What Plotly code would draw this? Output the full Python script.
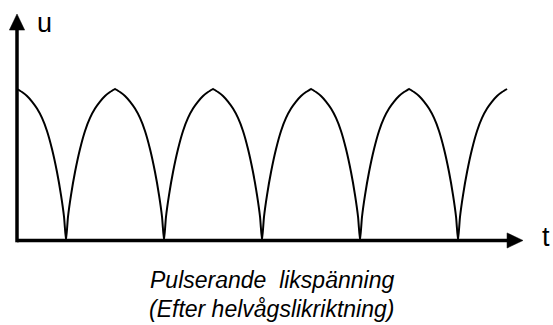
import plotly.graph_objects as go

# Full-wave rectified voltage: peak times and the profile of one half-arch
PEAK_T = [0, 10, 20, 30, 40, 50]
ARCH_DT = [0.0, 0.51, 1.02, 1.53, 2.04, 2.55, 3.06, 3.57, 4.08, 4.49, 4.80, 5.0]
ARCH_U = [1.0, 0.980, 0.954, 0.917, 0.871, 0.809, 0.723, 0.604, 0.452, 0.300, 0.155, 0.0]

AXIS_LABELS = ["u", "t"]
CAPTION = ["Pulserande  likspänning", "(Efter helvågslikriktning)"]

# build the curve: fall from each peak to zero, then rise to the next peak
t_vals, u_vals = [], []
for p0, p1 in zip(PEAK_T[:-1], PEAK_T[1:]):
    for dt, u in zip(ARCH_DT, ARCH_U):
        t_vals.append(p0 + dt)
        u_vals.append(u)
    for dt, u in zip(ARCH_DT[-2::-1], ARCH_U[-2::-1]):
        t_vals.append(p1 - dt)
        u_vals.append(u)

W, H = 553, 325
X_RANGE = [-1.735, 54.69]
Y_RANGE = [-0.558, 1.5875]

fig = go.Figure()
fig.add_trace(go.Scatter(x=t_vals, y=u_vals, mode="lines",
                         line=dict(color="black", width=2, shape="spline", smoothing=0.5),
                         hoverinfo="skip", showlegend=False))

AX_W = 3.5
# axes with arrow heads
fig.add_shape(type="line", x0=0, y0=-0.012, x1=0, y1=1.40,
              line=dict(color="black", width=AX_W))
fig.add_shape(type="line", x0=0, y0=0, x1=50.1, y1=0,
              line=dict(color="black", width=AX_W))
fig.add_shape(type="path", path="M -0.78,1.389 L 0.78,1.389 L 0,1.495 Z",
              fillcolor="black", line=dict(color="black", width=0.5))
fig.add_shape(type="path", path="M 50.0,-0.05 L 50.0,0.05 L 51.63,0 Z",
              fillcolor="black", line=dict(color="black", width=0.5))

fig.add_annotation(x=2.82, y=1.437, text=AXIS_LABELS[0], showarrow=False,
                   xanchor="center", yanchor="middle",
                   font=dict(family="Liberation Sans, Arial", size=27, color="black"))
fig.add_annotation(x=54.0, y=0.02, text=AXIS_LABELS[1], showarrow=False,
                   xanchor="center", yanchor="middle",
                   font=dict(family="Liberation Sans, Arial", size=27, color="black"))

cap_font = dict(family="Liberation Sans, Arial", size=23, color="black")
fig.add_annotation(x=(272 - 17) / 9.8, y=(240.5 - 280) / 151.5,
                   text="<i>" + CAPTION[0] + "</i>", showarrow=False,
                   xanchor="center", yanchor="middle", font=cap_font)
fig.add_annotation(x=(271 - 17) / 9.8, y=(240.5 - 309) / 151.5,
                   text="<i>" + CAPTION[1] + "</i>", showarrow=False,
                   xanchor="center", yanchor="middle", font=cap_font)

fig.update_xaxes(range=X_RANGE, visible=False, showgrid=False, zeroline=False, fixedrange=True)
fig.update_yaxes(range=Y_RANGE, visible=False, showgrid=False, zeroline=False, fixedrange=True)
fig.update_layout(width=W, height=H, margin=dict(l=0, r=0, t=0, b=0),
                  plot_bgcolor="white", paper_bgcolor="white", showlegend=False)

fig.write_html("out.html", config={"displayModeBar": False})
